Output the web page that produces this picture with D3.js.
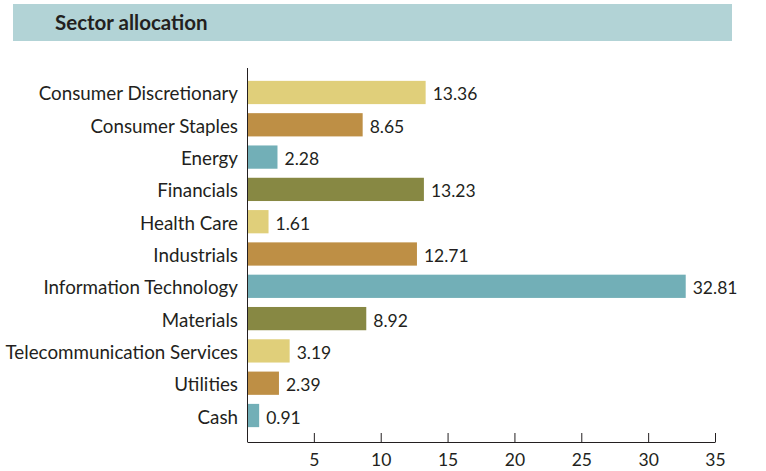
<!DOCTYPE html>
<html>
<head>
<meta charset="utf-8">
<script src="https://cdn.jsdelivr.net/npm/d3@7"></script>
<style>
  body { margin: 0; background: #fff; }
  text { font-family: Lato, "Open Sans", sans-serif; fill: #231f20; }
</style>
</head>
<body>
<div id="vis"></div>
<script>
// sector names, top to bottom
var sectors = ['Consumer Discretionary', 'Consumer Staples', 'Energy', 'Financials',
  'Health Care', 'Industrials', 'Information Technology', 'Materials',
  'Telecommunication Services', 'Utilities', 'Cash'];
var weights = [13.36, 8.65, 2.28, 13.23, 1.61, 12.71, 32.81, 8.92, 3.19, 2.39, 0.91];
var xTicks = [5, 10, 15, 20, 25, 30, 35];
var palette = ['#e0cf7a', '#be8f45', '#72afb7', '#878843'];

var width = 766, height = 471;
var margin = { top: 66, left: 247, bottom: 29, right: 51 };

var svg = d3.select('#vis').append('svg')
  .attr('width', width)
  .attr('height', height);

// header band
svg.append('rect')
  .attr('x', 13).attr('y', 4)
  .attr('width', 719).attr('height', 37)
  .attr('fill', '#b2d3d6');
svg.append('text')
  .attr('x', 55).attr('y', 30)
  .attr('font-size', 20.5)
  .attr('font-weight', 'bold')
  .text('Sector allocation');

var data = sectors.map(function (s, i) { return { name: s, value: weights[i] }; });

var x = d3.scaleLinear()
  .domain([0, 35])
  .range([margin.left, width - margin.right]);

var y = d3.scaleBand()
  .domain(sectors)
  .range([margin.top, height - margin.bottom])
  .paddingInner(0.28)
  .paddingOuter(0.46);

// bars
svg.selectAll('.bar')
  .data(data)
  .enter().append('rect')
  .attr('class', 'bar')
  .attr('x', x(0))
  .attr('y', function (d) { return y(d.name); })
  .attr('width', function (d) { return x(d.value) - x(0); })
  .attr('height', y.bandwidth())
  .attr('fill', function (d, i) { return palette[i % 4]; });

// value labels
svg.selectAll('.val')
  .data(data)
  .enter().append('text')
  .attr('class', 'val')
  .attr('x', function (d) { return x(d.value) + 7; })
  .attr('y', function (d) { return y(d.name) + y.bandwidth() / 2 + 8; })
  .attr('font-size', 17.5)
  .text(function (d) { return d3.format('.2f')(d.value); });

// category labels
svg.selectAll('.cat')
  .data(data)
  .enter().append('text')
  .attr('class', 'cat')
  .attr('x', x(0) - 9)
  .attr('y', function (d) { return y(d.name) + y.bandwidth() / 2 + 8; })
  .attr('font-size', 18.8)
  .attr('text-anchor', 'end')
  .text(function (d) { return d.name; });

// y axis line
svg.append('line')
  .attr('x1', x(0) + 0.5).attr('x2', x(0) + 0.5)
  .attr('y1', 68).attr('y2', height - margin.bottom)
  .attr('stroke', '#231f20');

// x axis with ticks pointing up
var xAxis = svg.append('g')
  .attr('transform', 'translate(0,' + (height - margin.bottom) + ')')
  .call(d3.axisBottom(x).tickValues(xTicks).tickSizeInner(-9).tickSizeOuter(0).tickPadding(12));
xAxis.select('.domain').attr('stroke', '#231f20');
xAxis.selectAll('.tick line').attr('stroke', '#231f20');
xAxis.selectAll('.tick text')
  .attr('font-size', 17.5)
  .attr('fill', '#231f20')
  .style('font-family', 'Lato, "Open Sans", sans-serif');
</script>
</body>
</html>
